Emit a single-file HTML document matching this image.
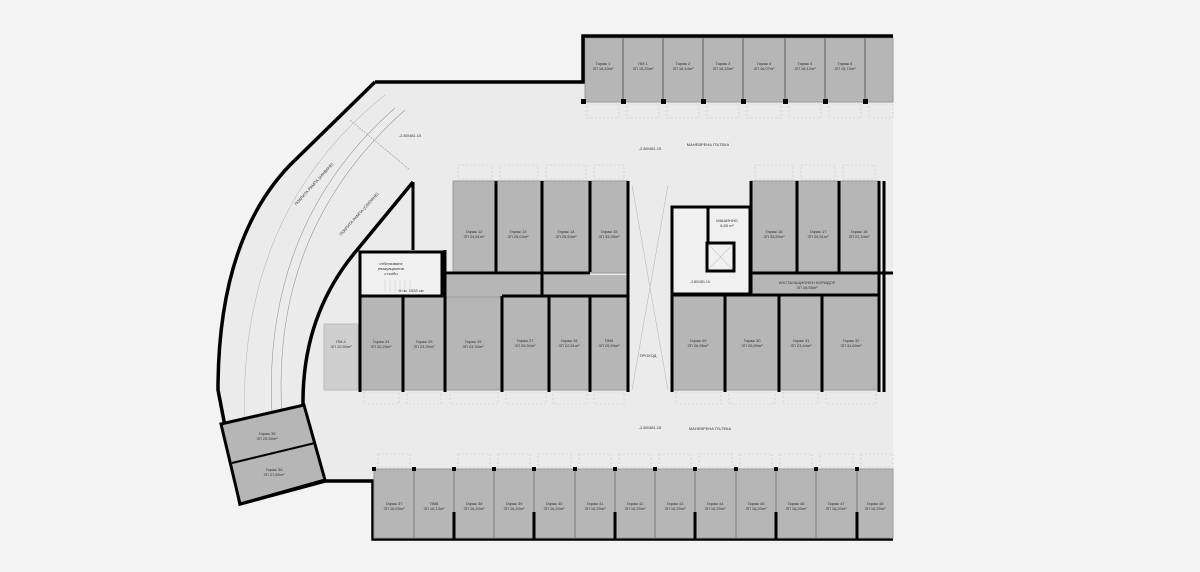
<!DOCTYPE html>
<html><head><meta charset="utf-8"><style>
html,body{margin:0;padding:0;background:#f3f3f3;}
svg{display:block;font-family:"Liberation Sans","DejaVu Sans",sans-serif;}
.g{fill:#b6b6b6;stroke:#9a9a9a;stroke-width:1}
.w{fill:none;stroke:#000;stroke-width:3.5}
.t{font-size:4px;fill:#333;text-anchor:middle}
.d{fill:none;stroke:#c8c8c8;stroke-width:.6;stroke-dasharray:2 2}
</style></head><body>
<svg width="1200" height="572" viewBox="0 0 1200 572" xmlns="http://www.w3.org/2000/svg">
<rect width="1200" height="572" fill="#f3f3f3"/>
<path d="M375,82 L583,82 L583,36 L893,36 L893,539 L373,539 L373,481 L325,481 L240,504 L218,390 Q218,240 290,165 Z" fill="#ebebeb"/>
<path d="M385,95 Q235,215 245,430" fill="none" stroke="#bbb" stroke-width=".6"/>
<path d="M405,110 Q270,230 282,415" fill="none" stroke="#999" stroke-width=".6"/>
<path d="M395,108 Q262,225 272,415" fill="none" stroke="#999" stroke-width=".6"/>
<path d="M350,120 L410,170" fill="none" stroke="#999" stroke-width=".6" stroke-dasharray="2 1"/>
<text x="315" y="185" class="t" transform="rotate(-48 315 185)">ПОКРИТА РАМПА (КАЧВАНЕ)</text>
<text x="360" y="215" class="t" transform="rotate(-48 360 215)">ПОКРИТА РАМПА (СЛИЗАНЕ)</text>
<text x="410" y="137" class="t" font-size="3.5">-2.80/481.15</text>
<!-- dashed parking outlines -->
<g class="d">
<rect x="587" y="104" width="32" height="14"/><rect x="627" y="104" width="32" height="14"/><rect x="667" y="104" width="32" height="14"/><rect x="707" y="104" width="32" height="14"/><rect x="747" y="104" width="34" height="14"/><rect x="789" y="104" width="32" height="14"/><rect x="829" y="104" width="32" height="14"/><rect x="869" y="104" width="24" height="14"/>
<rect x="458" y="165" width="34" height="14"/><rect x="500" y="165" width="38" height="14"/><rect x="546" y="165" width="40" height="14"/><rect x="594" y="165" width="30" height="14"/>
<rect x="755" y="165" width="38" height="14"/><rect x="801" y="165" width="34" height="14"/><rect x="843" y="165" width="32" height="14"/>
<rect x="364" y="392" width="35" height="12"/><rect x="407" y="392" width="34" height="12"/><rect x="450" y="392" width="48" height="12"/><rect x="506" y="392" width="40" height="12"/><rect x="553" y="392" width="34" height="12"/><rect x="594" y="392" width="30" height="12"/>
<rect x="676" y="392" width="45" height="12"/><rect x="729" y="392" width="46" height="12"/><rect x="783" y="392" width="35" height="12"/><rect x="826" y="392" width="50" height="12"/>
<rect x="378" y="454" width="32" height="13"/><rect x="458" y="454" width="32" height="13"/><rect x="498" y="454" width="32" height="13"/><rect x="538" y="454" width="33" height="13"/><rect x="579" y="454" width="32" height="13"/><rect x="619" y="454" width="32" height="13"/><rect x="659" y="454" width="32" height="13"/><rect x="699" y="454" width="33" height="13"/><rect x="740" y="454" width="32" height="13"/><rect x="780" y="454" width="32" height="13"/><rect x="820" y="454" width="33" height="13"/><rect x="861" y="454" width="32" height="13"/>
</g>
<!-- top garages -->
<rect x="585" y="38" width="308" height="64" class="g"/>
<g stroke="#888" stroke-width="2"><line x1="623" y1="38" x2="623" y2="102"/><line x1="663" y1="38" x2="663" y2="102"/><line x1="703" y1="38" x2="703" y2="102"/><line x1="743" y1="38" x2="743" y2="102"/><line x1="785" y1="38" x2="785" y2="102"/><line x1="825" y1="38" x2="825" y2="102"/><line x1="865" y1="38" x2="865" y2="102"/></g>
<g class="t"><text x="603" y="65">Гараж 1</text><text x="603" y="70">ЗП 16,43m²</text>
<text x="643" y="65">ПМ 1</text><text x="643" y="70">ЗП 15,20m²</text>
<text x="683" y="65">Гараж 2</text><text x="683" y="70">ЗП 16,14m²</text>
<text x="723" y="65">Гараж 3</text><text x="723" y="70">ЗП 16,15m²</text>
<text x="764" y="65">Гараж 4</text><text x="764" y="70">ЗП 16,07m²</text>
<text x="805" y="65">Гараж 5</text><text x="805" y="70">ЗП 16,12m²</text>
<text x="845" y="65">Гараж 6</text><text x="845" y="70">ЗП 15,74m²</text></g>
<path d="M375,82 L583,82 L583,36 L893,36" class="w"/>
<g fill="#000"><rect x="581" y="99" width="5" height="5"/><rect x="621" y="99" width="5" height="5"/><rect x="661" y="99" width="5" height="5"/><rect x="701" y="99" width="5" height="5"/><rect x="741" y="99" width="5" height="5"/><rect x="783" y="99" width="5" height="5"/><rect x="823" y="99" width="5" height="5"/><rect x="863" y="99" width="5" height="5"/></g>
<text x="708" y="146" class="t">МАНЕВРЕНА ПЪТЕКА</text>
<text x="650" y="150" class="t" font-size="3.5">-2.80/481.15</text>
<path d="M375,82 L290,165 Q218,240 218,390 L240,504 L325,481 L373,481 L373,539 L893,539" class="w"/>
<path d="M413,182 L357,250 Q302,315 303,405" class="w"/>
<path d="M221,424 L304,405 L325,480 L240,504 Z" fill="#b6b6b6" stroke="#000" stroke-width="3"/>
<line x1="232" y1="463" x2="315" y2="443" stroke="#000" stroke-width="2"/>
<g class="t"><text x="267" y="435">Гараж 35</text><text x="267" y="440">ЗП 25,90m²</text><text x="274" y="471">Гараж 36</text><text x="274" y="476">ЗП 27,89m²</text></g>
<rect x="324" y="324" width="34" height="66" fill="#cfcfcf" stroke="#bbb"/>
<text x="341" y="343" class="t">ПМ 4</text><text x="341" y="348" class="t">ЗП 12,50m²</text>
<!-- middle left block -->
<rect x="453" y="181" width="175" height="92" class="g"/>
<rect x="445" y="275" width="183" height="22" fill="#b6b6b6"/>
<rect x="360" y="297" width="268" height="93" class="g"/>
<rect x="360" y="252" width="82" height="44" fill="#f0f0f0" stroke="#000" stroke-width="3"/>
<g stroke="#ccc" stroke-width=".5"><line x1="385" y1="280" x2="385" y2="292"/><line x1="390" y1="280" x2="390" y2="292"/><line x1="395" y1="280" x2="395" y2="292"/><line x1="400" y1="280" x2="400" y2="292"/><line x1="405" y1="280" x2="405" y2="292"/><line x1="410" y1="280" x2="410" y2="292"/></g>
<g stroke="#000" stroke-width="3" fill="none">
<line x1="413" y1="182" x2="413" y2="250"/>
<line x1="496" y1="181" x2="496" y2="272"/>
<line x1="542" y1="181" x2="542" y2="295"/>
<line x1="590" y1="181" x2="590" y2="272"/>
<line x1="628" y1="181" x2="628" y2="392"/>
<line x1="445" y1="250" x2="445" y2="392"/>
<line x1="445" y1="273" x2="590" y2="273"/>
<line x1="502" y1="296" x2="628" y2="296"/>
<line x1="502" y1="296" x2="502" y2="392"/>
<line x1="360" y1="296" x2="360" y2="392"/>
<line x1="403" y1="296" x2="403" y2="392"/>
<line x1="549" y1="296" x2="549" y2="392"/>
<line x1="590" y1="296" x2="590" y2="392"/>
</g>
<g class="t"><text x="474" y="233">Гараж 12</text><text x="474" y="238">ЗП 24,81m²</text>
<text x="518" y="233">Гараж 13</text><text x="518" y="238">ЗП 25,04m²</text>
<text x="566" y="233">Гараж 14</text><text x="566" y="238">ЗП 25,54m²</text>
<text x="609" y="233">Гараж 15</text><text x="609" y="238">ЗП 33,25m²</text>
<text x="381" y="343">Гараж 24</text><text x="381" y="348">ЗП 20,23m²</text>
<text x="424" y="343">Гараж 25</text><text x="424" y="348">ЗП 23,39m²</text>
<text x="473" y="343">Гараж 26</text><text x="473" y="348">ЗП 43,30m²</text>
<text x="525" y="342">Гараж 27</text><text x="525" y="347">ЗП 25,90m²</text>
<text x="569" y="342">Гараж 28</text><text x="569" y="347">ЗП 22,51m²</text>
<text x="609" y="342">ПМ5</text><text x="609" y="347">ЗП 25,59m²</text>
<text x="391" y="265">отбелязване</text><text x="391" y="270">евакуационни</text><text x="391" y="275">стълби</text>
<text x="411" y="292">Н=м. 1928 см</text></g>
<path d="M632,185 L668,390 M668,185 L632,390" stroke="#bbb" stroke-width=".6"/>
<text x="648" y="357" class="t">ПРОХОД</text>
<!-- right block -->
<rect x="672" y="207" width="78" height="87" fill="#f0f0f0" stroke="#000" stroke-width="3"/>
<rect x="707" y="243" width="27" height="28" fill="#f0f0f0" stroke="#000" stroke-width="3"/>
<path d="M709,245 L732,269 M732,245 L709,269" stroke="#aaa" stroke-width=".5"/>
<line x1="708" y1="207" x2="708" y2="243" stroke="#000" stroke-width="3"/>
<text x="727" y="222" class="t">МАШИННО</text><text x="727" y="227" class="t">6,65 m²</text>
<rect x="751" y="181" width="128" height="92" class="g"/>
<rect x="751" y="274" width="128" height="21" fill="#b6b6b6"/>
<rect x="672" y="295" width="207" height="95" class="g"/>
<g stroke="#000" stroke-width="3" fill="none">
<line x1="751" y1="181" x2="751" y2="295"/>
<line x1="797" y1="181" x2="797" y2="273"/>
<line x1="839" y1="181" x2="839" y2="273"/>
<line x1="879" y1="181" x2="879" y2="392"/>
<line x1="884" y1="181" x2="884" y2="392"/>
<line x1="751" y1="273" x2="893" y2="273"/>
<line x1="672" y1="295" x2="879" y2="295"/>
<line x1="672" y1="295" x2="672" y2="392"/>
<line x1="725" y1="295" x2="725" y2="392"/>
<line x1="779" y1="295" x2="779" y2="392"/>
<line x1="822" y1="295" x2="822" y2="392"/>
</g>
<g class="t"><text x="774" y="233">Гараж 16</text><text x="774" y="238">ЗП 33,59m²</text>
<text x="818" y="233">Гараж 17</text><text x="818" y="238">ЗП 20,91m²</text>
<text x="859" y="233">Гараж 18</text><text x="859" y="238">ЗП 22,34m²</text>
<text x="807" y="284">ИНСТАЛАЦИОНЕН КОРИДОР</text><text x="807" y="289">ЗП 16,55m²</text>
<text x="698" y="342">Гараж 29</text><text x="698" y="347">ЗП 26,96m²</text>
<text x="752" y="342">Гараж 30</text><text x="752" y="347">ЗП 29,89m²</text>
<text x="801" y="342">Гараж 31</text><text x="801" y="347">ЗП 23,44m²</text>
<text x="851" y="342">Гараж 32</text><text x="851" y="347">ЗП 31,69m²</text>
<text x="700" y="283" font-size="3.5">-2.80/481.15</text></g>
<text x="710" y="430" class="t">МАНЕВРЕНА ПЪТЕКА</text>
<text x="650" y="429" class="t" font-size="3.5">-2.80/481.15</text>
<!-- bottom garages -->
<rect x="374" y="469" width="519" height="69" class="g"/>
<g stroke="#999" stroke-width="2"><line x1="414" y1="469" x2="414" y2="538"/><line x1="454" y1="469" x2="454" y2="538"/><line x1="494" y1="469" x2="494" y2="538"/><line x1="534" y1="469" x2="534" y2="538"/><line x1="575" y1="469" x2="575" y2="538"/><line x1="615" y1="469" x2="615" y2="538"/><line x1="655" y1="469" x2="655" y2="538"/><line x1="695" y1="469" x2="695" y2="538"/><line x1="736" y1="469" x2="736" y2="538"/><line x1="776" y1="469" x2="776" y2="538"/><line x1="816" y1="469" x2="816" y2="538"/><line x1="857" y1="469" x2="857" y2="538"/></g>
<g stroke="#000" stroke-width="3"><line x1="454" y1="512" x2="454" y2="539"/><line x1="534" y1="512" x2="534" y2="539"/><line x1="615" y1="512" x2="615" y2="539"/><line x1="695" y1="512" x2="695" y2="539"/><line x1="776" y1="512" x2="776" y2="539"/><line x1="857" y1="512" x2="857" y2="539"/></g>
<g class="t"><text x="394" y="505">Гараж 37</text><text x="394" y="510">ЗП 16,53m²</text>
<text x="434" y="505">ПМ6</text><text x="434" y="510">ЗП 16,13m²</text>
<text x="474" y="505">Гараж 38</text><text x="474" y="510">ЗП 16,20m²</text>
<text x="514" y="505">Гараж 39</text><text x="514" y="510">ЗП 16,20m²</text>
<text x="554" y="505">Гараж 40</text><text x="554" y="510">ЗП 16,20m²</text>
<text x="595" y="505">Гараж 41</text><text x="595" y="510">ЗП 16,20m²</text>
<text x="635" y="505">Гараж 42</text><text x="635" y="510">ЗП 16,20m²</text>
<text x="675" y="505">Гараж 43</text><text x="675" y="510">ЗП 16,20m²</text>
<text x="715" y="505">Гараж 44</text><text x="715" y="510">ЗП 16,20m²</text>
<text x="756" y="505">Гараж 45</text><text x="756" y="510">ЗП 16,20m²</text>
<text x="796" y="505">Гараж 46</text><text x="796" y="510">ЗП 16,20m²</text>
<text x="836" y="505">Гараж 47</text><text x="836" y="510">ЗП 16,20m²</text>
<text x="875" y="505">Гараж 48</text><text x="875" y="510">ЗП 16,20m²</text></g>
<g fill="#000"><rect x="372" y="467" width="4" height="4"/><rect x="412" y="467" width="4" height="4"/><rect x="452" y="467" width="4" height="4"/><rect x="492" y="467" width="4" height="4"/><rect x="532" y="467" width="4" height="4"/><rect x="573" y="467" width="4" height="4"/><rect x="613" y="467" width="4" height="4"/><rect x="653" y="467" width="4" height="4"/><rect x="693" y="467" width="4" height="4"/><rect x="734" y="467" width="4" height="4"/><rect x="774" y="467" width="4" height="4"/><rect x="814" y="467" width="4" height="4"/><rect x="855" y="467" width="4" height="4"/></g>
</svg>
</body></html>
